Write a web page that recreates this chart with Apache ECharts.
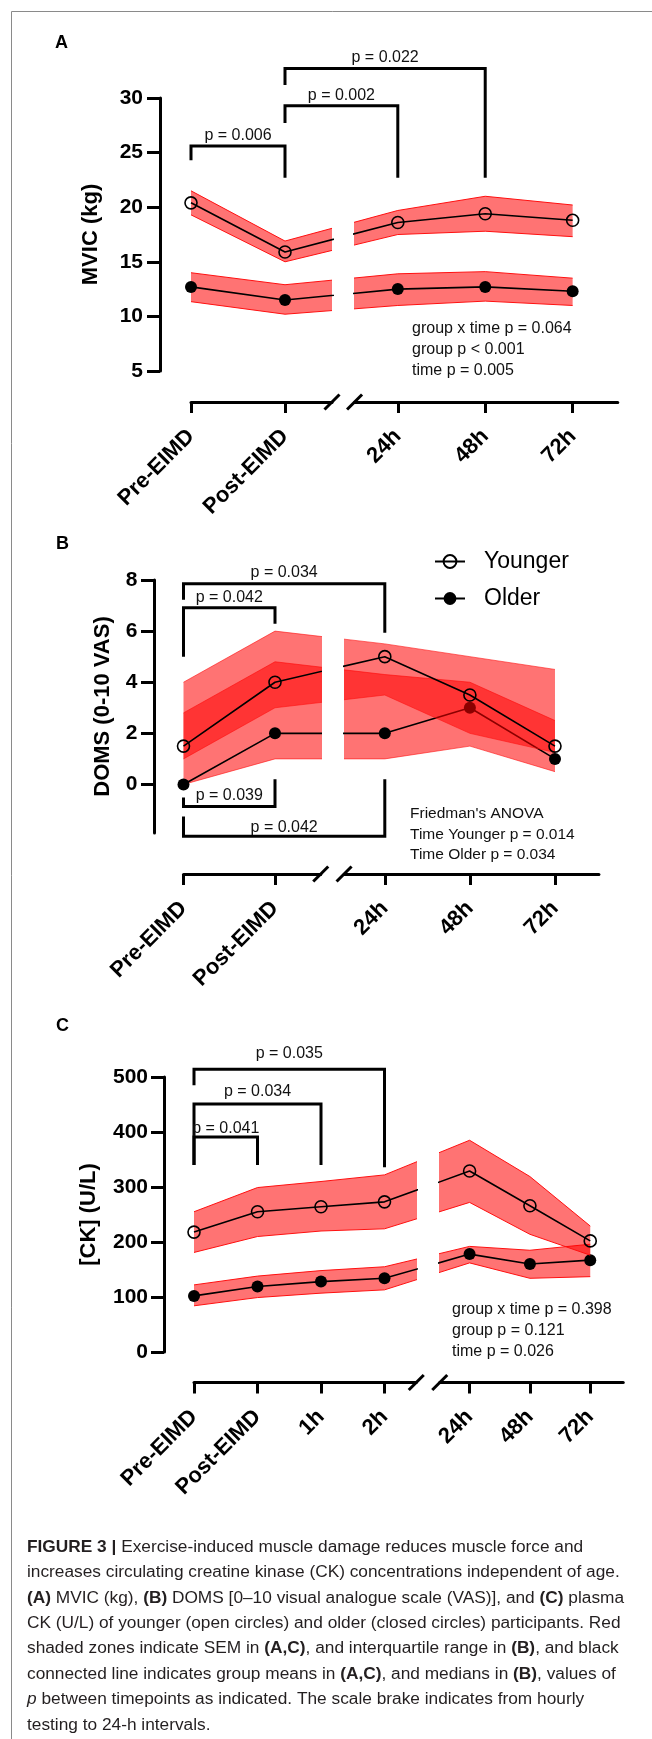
<!DOCTYPE html>
<html>
<head>
<meta charset="utf-8">
<style>
html, body { margin: 0; padding: 0; background: #fff; }
#fig { width: 652px; height: 1739px; }
</style>
<script src="https://cdn.jsdelivr.net/npm/echarts@6/dist/echarts.min.js"></script>
</head>
<body>
<div id="fig"></div>
<script>
// timepoints
const labelsAB = ['Pre-EIMD', 'Post-EIMD', '24h', '48h', '72h'];
const labelsC = ['Pre-EIMD', 'Post-EIMD', '1h', '2h', '24h', '48h', '72h'];
// where each timepoint sits on the broken time axis
const xAB = [0, 1, 2.2, 3.13, 4.06];
const xC = [0, 1, 2, 3, 4.34, 5.29, 6.24];

// A: MVIC (kg), group mean and SEM
const mvicYoung = [20.4, 15.9, 18.6, 19.4, 18.8];
const mvicYoungHi = [21.5, 16.9, 19.7, 21.0, 20.2];
const mvicYoungLo = [19.3, 15.0, 17.5, 17.8, 17.3];
const mvicOld = [12.7, 11.5, 12.5, 12.7, 12.3];
const mvicOldHi = [14.0, 12.9, 13.9, 14.1, 13.5];
const mvicOldLo = [11.35, 10.2, 11.0, 11.4, 11.0];

// B: DOMS (0-10 VAS), median and IQR
const domsYoung = [1.5, 4, 5, 3.5, 1.5];
const domsYoungHi = [4, 6, 5.5, 5, 4.5];
const domsYoungLo = [1, 3, 3.5, 2, 1.25];
const domsOld = [0, 2, 2, 3, 1];
const domsOldHi = [2.8, 4.8, 4.3, 4, 2.5];
const domsOldLo = [0, 1, 1, 1.5, 0.5];

// C: [CK] (U/L), group mean and SEM
const ckYoung = [218, 255, 264, 273, 329, 266, 202];
const ckYoungHi = [255, 299, 310, 322, 385, 319, 229];
const ckYoungLo = [181, 210, 220, 224, 272, 214, 176];
const ckOld = [102, 119, 128, 134, 178, 160, 167];
const ckOldHi = [122, 138, 148, 155, 192, 185, 196];
const ckOldLo = [84, 99, 107, 113, 162, 134, 137];

// y tick labels
const ticksA = [5, 10, 15, 20, 25, 30];
const ticksB = [0, 2, 4, 6, 8];
const ticksC = [0, 100, 200, 300, 400, 500];

// p brackets: [from, to, bar level, left foot, right foot, label level, text]
const bracketsA = [
    [0, 1, 25.6, 24.3, 22.7, 26.6, 'p = 0.006'],
    [1, 2, 29.3, 27.7, 22.7, 30.2, 'p = 0.002'],
    [1, 3, 32.7, 31.2, 22.7, 33.7, 'p = 0.022']
];
const bracketsB = [
    [0, 2, 7.85, 7.23, 5.94, 8.28, 'p = 0.034'],
    [0, 1, 6.91, 5.0, 6.29, 7.3, 'p = 0.042'],
    [0, 1, -0.86, -0.51, 0.2, -0.43, 'p = 0.039'],
    [0, 2, -2.03, -1.25, 0.2, -1.68, 'p = 0.042']
];
const bracketsC = [
    [0, 3, 514, 485, 336, 543, 'p = 0.035'],
    [0, 2, 451, 340, 340, 474, 'p = 0.034'],
    [0, 1, 391, 340, 340, 407, 'p = 0.041']
];

const statsA = ['group x time p = 0.064', 'group p < 0.001', 'time p = 0.005'];
const statsB = ["Friedman's ANOVA", 'Time Younger p = 0.014', 'Time Older p = 0.034'];
const statsC = ['group x time p = 0.398', 'group p = 0.121', 'time p = 0.026'];

const FONT = '"Liberation Sans", Arial, Helvetica, sans-serif';
const BAND = 'rgba(255,0,0,0.55)';

// pixel layout of each panel
const layout = {
    A: { ox: 191, unit: 94, top: 98, h: 273, brk: [1.5, 1.74], xMax: 4.54, yOff: 31, xOff: 31, nameGap: 58, lm: 17 },
    B: { ox: 183.5, unit: 91.5, top: 580, h: 253, brk: [1.5, 1.755], xMax: 4.54, yOff: 29.5, xOff: 41, nameGap: 40, lm: 16.5 },
    C: { ox: 194, unit: 63.5, top: 1077, h: 275, brk: [3.5, 3.87], xMax: 6.76, yOff: 30, xOff: 30.5, nameGap: 64, lm: 16 }
};

const panels = [
    { L: layout.A, xs: xAB, labels: labelsAB, yMin: 5, yMax: 30, ticks: ticksA, title: 'MVIC (kg)',
      young: [mvicYoung, mvicYoungHi, mvicYoungLo], old: [mvicOld, mvicOldHi, mvicOldLo], edge: 1, brackets: bracketsA },
    { L: layout.B, xs: xAB, labels: labelsAB, yMin: -1.9, yMax: 8, ticks: ticksB, title: 'DOMS (0-10 VAS)',
      young: [domsYoung, domsYoungHi, domsYoungLo], old: [domsOld, domsOldHi, domsOldLo], edge: 0.6, brackets: bracketsB },
    { L: layout.C, xs: xC, labels: labelsC, yMin: 0, yMax: 500, ticks: ticksC, title: '[CK] (U/L)',
      young: [ckYoung, ckYoungHi, ckYoungLo], old: [ckOld, ckOldHi, ckOldLo], edge: 1, brackets: bracketsC }
];

function nearest(arr, v) {
    let best = 0;
    arr.forEach((a, i) => { if (Math.abs(a - v) < Math.abs(arr[best] - v)) best = i; });
    return best;
}

function bandSeries(idx, xs, hi, lo, z, edge) {
    return {
        type: 'custom', xAxisIndex: idx, yAxisIndex: idx, z: z, clip: true, silent: true,
        data: [[xs[0], lo[0]]],
        renderItem: function (params, api) {
            const up = xs.map((x, i) => api.coord([x, hi[i]]));
            const dn = xs.map((x, i) => api.coord([x, lo[i]]));
            return {
                type: 'group',
                children: [
                    { type: 'polygon', shape: { points: up.concat(dn.slice().reverse()) }, style: { fill: BAND } },
                    { type: 'polyline', shape: { points: up }, style: { stroke: '#ff1010', lineWidth: edge, fill: null } },
                    { type: 'polyline', shape: { points: dn }, style: { stroke: '#ff1010', lineWidth: edge, fill: null } }
                ]
            };
        }
    };
}

function lineSeries(idx, xs, vals, name, open, z) {
    return {
        type: 'line', name: name, xAxisIndex: idx, yAxisIndex: idx, z: z, clip: true, silent: true,
        data: xs.map((x, i) => [x, vals[i]]),
        symbol: 'circle', symbolSize: 12, showAllSymbol: true,
        lineStyle: { color: '#000', width: 1.6 },
        itemStyle: open ? { color: 'rgba(255,255,255,0)', borderColor: '#000', borderWidth: 1.6 }
                        : { color: '#000', borderColor: '#000', borderWidth: 0 },
        emphasis: { disabled: true }
    };
}

function bracketSeries(idx, xs, list) {
    return {
        type: 'custom', xAxisIndex: idx, yAxisIndex: idx, z: 6, clip: false, silent: true,
        data: list.map(b => [xs[b[0]], b[2]]),
        renderItem: function (params, api) {
            const b = list[params.dataIndex];
            const fL = api.coord([xs[b[0]], b[3]]);
            const pL = api.coord([xs[b[0]], b[2]]);
            const pR = api.coord([xs[b[1]], b[2]]);
            const fR = api.coord([xs[b[1]], b[4]]);
            const t = api.coord([(xs[b[0]] + xs[b[1]]) / 2, b[5]]);
            return {
                type: 'group',
                children: [
                    { type: 'polyline', shape: { points: [fL, pL, pR, fR] },
                      style: { stroke: '#000', lineWidth: 3, fill: null, lineJoin: 'miter' } },
                    { type: 'text', x: t[0], y: t[1],
                      style: { text: b[6], fill: '#111', fontSize: 16, fontFamily: FONT, align: 'center', verticalAlign: 'middle' } }
                ]
            };
        }
    };
}

const grid = [], xAxis = [], yAxis = [], series = [], graphic = [];

panels.forEach(function (p) {
    const L = p.L;
    const g0 = grid.length;
    grid.push({ left: L.ox, top: L.top, width: L.brk[0] * L.unit, height: L.h, outerBoundsMode: 'none' });
    grid.push({ left: L.ox + L.brk[1] * L.unit, top: L.top, width: (L.xMax - L.brk[1]) * L.unit, height: L.h, outerBoundsMode: 'none' });
    [[0, L.brk[0]], [L.brk[1], L.xMax]].forEach(function (ext, s) {
        const vals = p.xs.filter(v => v >= ext[0] && v <= ext[1]);
        xAxis.push({
            gridIndex: g0 + s, type: 'value', min: ext[0], max: ext[1], position: 'bottom', offset: L.xOff,
            axisLine: { show: true, onZero: false, lineStyle: { color: '#000', width: 3 } },
            axisTick: { show: true, customValues: vals, length: 11, lineStyle: { color: '#000', width: 3 } },
            axisLabel: {
                customValues: vals, rotate: 45, margin: 31, color: '#000', fontFamily: FONT,
                fontWeight: 'bold', fontSize: 22, showMinLabel: true, showMaxLabel: true,
                formatter: v => p.labels[nearest(p.xs, v)]
            },
            splitLine: { show: false }
        });
        if (s === 0) {
            yAxis.push({
                gridIndex: g0, type: 'value', min: p.yMin, max: p.yMax, position: 'left', offset: L.yOff,
                name: p.title, nameLocation: 'middle', nameGap: L.nameGap, nameRotate: 90,
                nameTextStyle: { color: '#000', fontFamily: FONT, fontWeight: 'bold', fontSize: 22 },
                axisLine: { show: true, onZero: false, lineStyle: { color: '#000', width: 3 } },
                axisTick: { show: true, customValues: p.ticks, length: 13, lineStyle: { color: '#000', width: 3 } },
                axisLabel: { customValues: p.ticks, margin: L.lm, color: '#000', fontFamily: FONT, fontWeight: 'bold',
                    fontSize: 21, showMinLabel: true, showMaxLabel: true },
                splitLine: { show: false }
            });
        } else {
            yAxis.push({ gridIndex: g0 + 1, type: 'value', min: p.yMin, max: p.yMax, show: false });
        }
        const idx = g0 + s;
        series.push(bandSeries(idx, p.xs, p.old[1], p.old[2], 1, p.edge));
        series.push(lineSeries(idx, p.xs, p.old[0], 'Older', false, 2));
        series.push(bandSeries(idx, p.xs, p.young[1], p.young[2], 3, p.edge));
        series.push(lineSeries(idx, p.xs, p.young[0], 'Younger', true, 4));
    });
    series.push(bracketSeries(g0, p.xs, p.brackets));

    // scale break marks on the time axis
    const ay = L.top + L.h + L.xOff;
    [L.ox + L.brk[0] * L.unit, L.ox + L.brk[1] * L.unit].forEach(function (cx) {
        graphic.push({ type: 'line', z: 10, shape: { x1: cx - 7.5, y1: ay + 7.5, x2: cx + 7.5, y2: ay - 7.5 },
            style: { stroke: '#000', lineWidth: 3 } });
    });
});

// figure frame
graphic.push({ type: 'rect', z: 0, shape: { x: 11.5, y: 11.5, width: 700, height: 1800 },
    style: { fill: null, stroke: '#8a8a8a', lineWidth: 1 } });

// panel letters
[['A', 55, 43], ['B', 56, 544], ['C', 56, 1026]].forEach(function (t) {
    graphic.push({ type: 'text', x: t[1], y: t[2], style: { text: t[0], fill: '#000', fontFamily: FONT,
        fontWeight: 'bold', fontSize: 18, verticalAlign: 'middle' } });
});

// statistics text
[[statsA, 412, 329, 21, 16], [statsB, 410, 814, 20.5, 15.5], [statsC, 452, 1310, 21, 16]].forEach(function (s) {
    s[0].forEach(function (line, i) {
        graphic.push({ type: 'text', x: s[1], y: s[2] + i * s[3], style: { text: line, fill: '#111',
            fontFamily: FONT, fontSize: s[4], verticalAlign: 'middle' } });
    });
});

// caption
const caption = [
    '{b|FIGURE 3 |} Exercise-induced muscle damage reduces muscle force and',
    'increases circulating creatine kinase (CK) concentrations independent of age.',
    '{b|(A)} MVIC (kg), {b|(B)} DOMS [0–10 visual analogue scale (VAS)], and {b|(C)} plasma',
    'CK (U/L) of younger (open circles) and older (closed circles) participants. Red',
    'shaded zones indicate SEM in {b|(A,C)}, and interquartile range in {b|(B)}, and black',
    'connected line indicates group means in {b|(A,C)}, and medians in {b|(B)}, values of',
    '{i|p} between timepoints as indicated. The scale brake indicates from hourly',
    'testing to 24-h intervals.'
];
const CAP = 17.3;
caption.forEach(function (line, i) {
    graphic.push({ type: 'text', x: 27, y: 1547 + i * 25.4, style: {
        text: line, fill: '#231f20', fontFamily: FONT, fontSize: CAP, verticalAlign: 'middle',
        rich: {
            b: { fontFamily: FONT, fontSize: CAP, fontWeight: 'bold', fill: '#231f20' },
            i: { fontFamily: FONT, fontSize: CAP, fontStyle: 'italic', fill: '#231f20' }
        }
    } });
});

const chart = echarts.init(document.getElementById('fig'), null, { renderer: 'canvas' });
chart.setOption({
    animation: false,
    backgroundColor: '#fff',
    grid: grid,
    xAxis: xAxis,
    yAxis: yAxis,
    legend: {
        data: ['Younger', 'Older'], orient: 'vertical', left: 429, top: 545, itemWidth: 30, itemHeight: 16,
        itemGap: 14, selectedMode: false,
        textStyle: { color: '#000', fontFamily: FONT, fontSize: 23, padding: [0, 0, 0, 14] }
    },
    series: series,
    graphic: graphic
});
</script>
</body>
</html>
